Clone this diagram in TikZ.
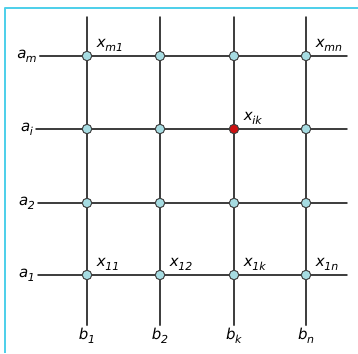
\documentclass[tikz,border=0pt]{standalone}
\usepackage{fontspec}
\setmainfont{DejaVu Sans}
\usetikzlibrary{positioning}
\definecolor{framecyan}{RGB}{80,208,234}
\definecolor{gridgray}{RGB}{64,64,64}
\definecolor{dotcyan}{RGB}{166,220,226}
\definecolor{dotred}{RGB}{206,18,18}
\newcommand{\sublbl}[2]{\textit{#1}\kern-0.5pt\raisebox{-0.45ex}{\fontsize{11}{12}\selectfont\textit{#2}}}

\begin{document}
\begin{tikzpicture}[x=1pt, y=-1pt, line join=round, line cap=round,
    gridline/.style={draw=gridgray, line width=1.8pt},
    dot/.style={circle, draw=gridgray, fill=dotcyan, line width=1pt, inner sep=0pt, minimum size=9.5pt},
    hotdot/.style={dot, fill=dotred},
    sidelbl/.style={font=\fontsize{15}{17}\selectfont, inner sep=3pt},
    vallbl/.style={font=\fontsize{15}{17}\selectfont, inner sep=0pt}]
    \useasboundingbox (0,0) rectangle (358,353);

    % frame (only top and left edges)
    \draw[framecyan, line width=2.2pt, line cap=butt] (5,353) -- (5,8) -- (358,8);

    % row labels a and line ends
    \foreach \r/\ry/\rn in {1/275/1, 2/203/2, 3/129/i, 4/56/m} {
        \node[sidelbl] (a\r) at (27,\ry) {\sublbl{a}{\rn}};
        \coordinate (e\r) at (347,\ry);
    }
    % column labels b and line ends
    \foreach \c/\cx/\cn in {1/87/1, 2/160/2, 3/234/k, 4/306/n} {
        \node[sidelbl] (b\c) at (\cx,336) {\sublbl{b}{\cn}};
        \coordinate (t\c) at (\cx,17);
    }

    % grid lines
    \foreach \r in {1,...,4}
        \draw[gridline] (a\r) -- (e\r);
    \foreach \c in {1,...,4}
        \draw[gridline] (t\c) -- (b\c);

    % intersections
    \foreach \r/\ry in {1/275, 2/203, 3/129, 4/56}
        \foreach \c/\cx in {1/87, 2/160, 3/234, 4/306} {
            \ifnum\r\c=33
                \node[hotdot] (x\r\c) at (\cx,\ry) {};
            \else
                \node[dot] (x\r\c) at (\cx,\ry) {};
            \fi
        }

    % element labels
    \node[vallbl, above right=1pt and 6pt of x41] {\sublbl{x}{m1}};
    \node[vallbl, above right=1pt and 6pt of x44] {\sublbl{x}{mn}};
    \node[vallbl, above right=1pt and 6pt of x33] {\sublbl{x}{ik}};
    \node[vallbl, above right=1pt and 6pt of x11] {\sublbl{x}{11}};
    \node[vallbl, above right=1pt and 6pt of x12] {\sublbl{x}{12}};
    \node[vallbl, above right=1pt and 6pt of x13] {\sublbl{x}{1k}};
    \node[vallbl, above right=1pt and 6pt of x14] {\sublbl{x}{1n}};
\end{tikzpicture}
\end{document}
